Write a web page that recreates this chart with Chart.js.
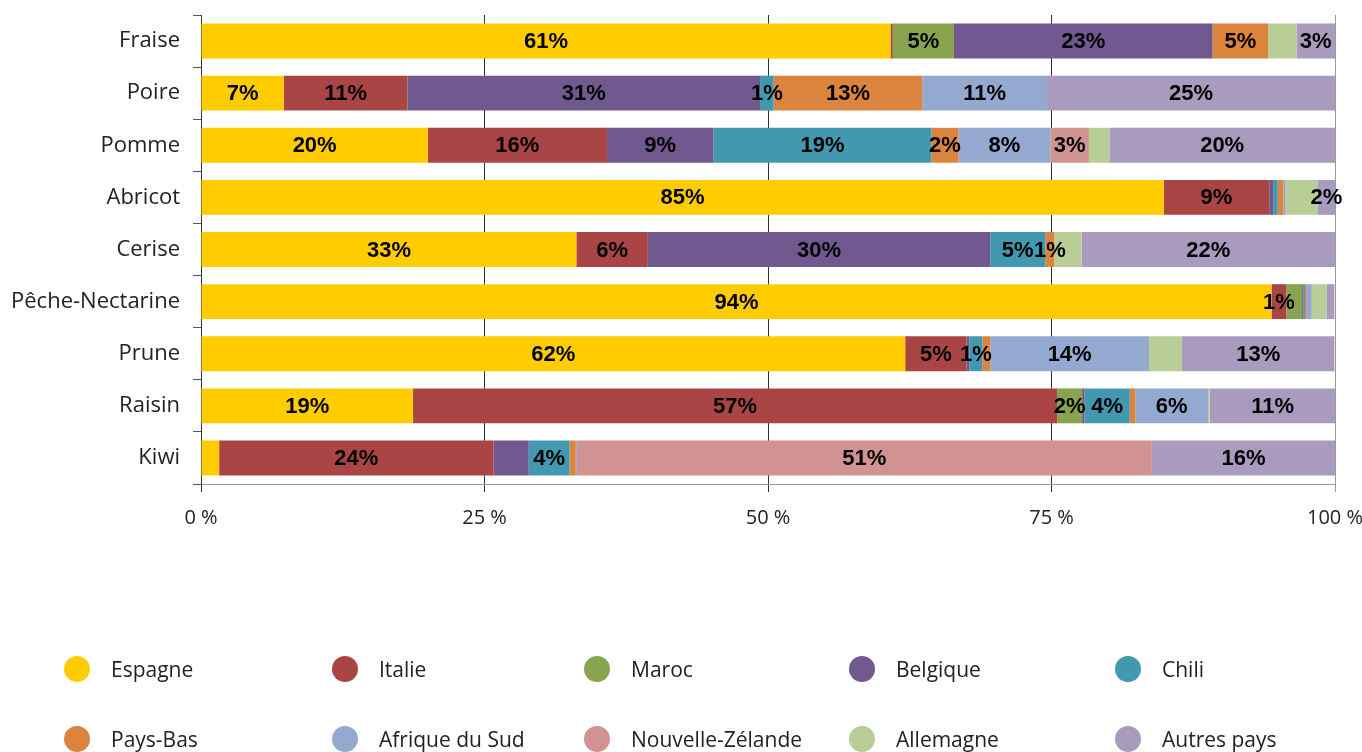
<!DOCTYPE html>
<html>
<head>
<meta charset="utf-8">
<script src="https://cdn.jsdelivr.net/npm/chart.js@4"></script>
<style>
  html, body { margin: 0; padding: 0; background: #ffffff; }
  #wrap { position: relative; width: 1362px; height: 752px; overflow: hidden; }
  #c { position: absolute; left: 0; top: 0; }
  .lg { position: absolute; display: flex; align-items: center; font-family: "Open Sans", sans-serif; font-size: 21px; color: #222; white-space: nowrap; }
  .dot { width: 26px; height: 26px; border-radius: 50%; margin-right: 21px; flex: none; }
</style>
</head>
<body>
<div id="wrap">
  <canvas id="c" width="1362" height="752"></canvas>
</div>
<script>
const categories = ['Fraise', 'Poire', 'Pomme', 'Abricot', 'Cerise', 'Pêche-Nectarine', 'Prune', 'Raisin', 'Kiwi'];
const countries = ['Espagne', 'Italie', 'Maroc', 'Belgique', 'Chili', 'Pays-Bas', 'Afrique du Sud', 'Nouvelle-Zélande', 'Allemagne', 'Autres pays'];

const espagne     = [60.8, 7.3, 20.0, 84.9, 33.1, 94.4, 62.1, 18.7, 1.6];
const italie      = [0.2, 10.9, 15.8, 9.3, 6.3, 1.3, 5.4, 56.8, 24.2];
const maroc       = [5.4, 0, 0, 0, 0, 1.4, 0, 2.2, 0];
const belgique    = [22.8, 31.1, 9.4, 0.35, 30.2, 0.1, 0.25, 0.2, 3.1];
const chili       = [0, 1.2, 19.2, 0.4, 4.85, 0.15, 1.15, 4.0, 3.6];
const paysBas     = [4.9, 13.1, 2.4, 0.5, 0.8, 0.15, 0.7, 0.5, 0.55];
const afriqueSud  = [0, 11.0, 8.1, 0.2, 0, 0.45, 14.0, 6.4, 0.1];
const nouvelleZel = [0, 0, 3.4, 0, 0, 0, 0, 0, 50.7];
const allemagne   = [2.5, 0, 1.8, 2.8, 2.4, 1.3, 2.9, 0.15, 0];
const autres      = [3.4, 25.4, 19.9, 1.6, 22.35, 0.7, 13.45, 11.1, 16.15];

const seriesValues = [espagne, italie, maroc, belgique, chili, paysBas, afriqueSud, nouvelleZel, allemagne, autres];
const seriesColors = ['#FFCC00', '#A94645', '#88A44E', '#71588F', '#4198AF', '#DB843D', '#93A9CF', '#D19392', '#B9CD96', '#A99BBD'];

const xTickValues = [0, 25, 50, 75, 100];
const xTickLabels = ['0 %', '25 %', '50 %', '75 %', '100 %'];

// labels not shown in the original, besides Allemagne and tiny values
const hiddenLabels = [['Pêche-Nectarine', 'Maroc'], ['Kiwi', 'Espagne'], ['Kiwi', 'Belgique']];
const unlabeledSeries = ['Allemagne'];

const datasets = countries.map((name, i) => ({
  label: name,
  data: seriesValues[i],
  backgroundColor: seriesColors[i],
  borderWidth: 0,
  barPercentage: 0.67,
  categoryPercentage: 1.0
}));

const valueLabels = {
  id: 'valueLabels',
  afterDatasetsDraw(chart) {
    const ctx = chart.ctx;
    ctx.save();
    ctx.font = 'bold 22px "Liberation Sans", Arial, sans-serif';
    ctx.fillStyle = '#000';
    ctx.textAlign = 'center';
    ctx.textBaseline = 'middle';
    chart.data.datasets.forEach((ds, di) => {
      if (unlabeledSeries.includes(ds.label)) return;
      const meta = chart.getDatasetMeta(di);
      meta.data.forEach((el, i) => {
        const v = ds.data[i];
        if (v < 0.75) return;
        const cat = chart.data.labels[i];
        if (hiddenLabels.some(p => p[0] === cat && p[1] === ds.label)) return;
        const cx = (el.x + el.base) / 2;
        ctx.fillText(Math.round(v) + '%', cx, el.y + 1);
      });
    });
    ctx.restore();
  }
};

const chart = new Chart(document.getElementById('c'), {
  type: 'bar',
  data: { labels: categories, datasets },
  options: {
    indexAxis: 'y',
    responsive: false,
    animation: false,
    devicePixelRatio: 1,
    layout: { padding: { top: 15, right: 27, bottom: 218, left: 0 } },
    plugins: { legend: { display: false }, tooltip: { enabled: false } },
    scales: {
      x: {
        stacked: true,
        min: 0,
        max: 100,
        afterBuildTicks(scale) { scale.ticks = xTickValues.map(v => ({ value: v })); },
        afterFit(scale) { scale.height = 50; scale.paddingLeft = 0; scale.paddingRight = 0; },
        border: { display: true, color: '#9a9a9a', width: 1 },
        grid: {
          color: ctx => (ctx.tick && ctx.tick.value === 100) ? '#9a9a9a' : '#333333',
          lineWidth: 1,
          drawTicks: true,
          tickLength: 8
        },
        ticks: {
          maxRotation: 0,
          padding: 14,
          color: '#222',
          font: { family: '"Open Sans", sans-serif', size: 20 },
          callback: (v) => xTickLabels[xTickValues.indexOf(v)]
        }
      },
      y: {
        stacked: true,
        afterFit(scale) { scale.width = 201; scale.paddingTop = 0; scale.paddingBottom = 0; },
        border: { display: true, color: '#333333', width: 1 },
        grid: {
          drawOnChartArea: false,
          drawTicks: true,
          tickLength: 8,
          color: '#555555',
          offset: true
        },
        ticks: {
          padding: 13,
          color: '#222',
          font: { family: '"Open Sans", sans-serif', size: 22 }
        }
      }
    }
  },
  plugins: [valueLabels]
});

// HTML legend built from the datasets
const legendCols = [77, 345, 597, 862, 1128];
const legendRows = [669, 739];
const wrap = document.getElementById('wrap');
chart.data.datasets.forEach((ds, i) => {
  const col = i % 5, row = Math.floor(i / 5);
  const item = document.createElement('div');
  item.className = 'lg';
  item.style.left = (legendCols[col] - 13) + 'px';
  item.style.top = (legendRows[row] - 15) + 'px';
  item.style.height = '30px';
  const dot = document.createElement('span');
  dot.className = 'dot';
  dot.style.background = ds.backgroundColor;
  const txt = document.createElement('span');
  txt.textContent = ds.label;
  item.appendChild(dot);
  item.appendChild(txt);
  wrap.appendChild(item);
});
</script>
</body>
</html>
